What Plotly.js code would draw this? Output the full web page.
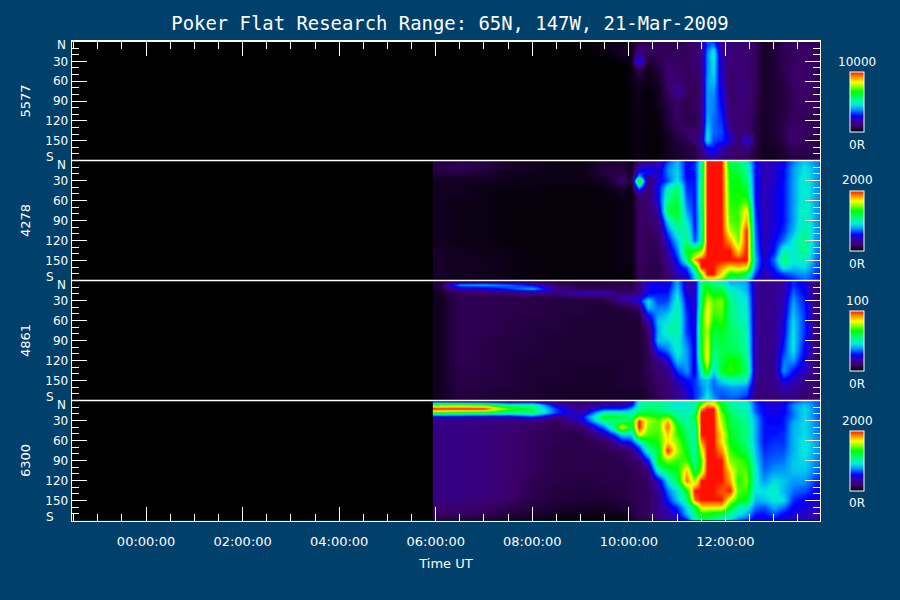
<!DOCTYPE html>
<html>
<head>
<meta charset="utf-8">
<script src="https://cdn.plot.ly/plotly-3.0.1.min.js"></script>
<style>html,body{margin:0;padding:0;background:#00406a}</style>
</head>
<body>
<div id="chart" style="width:900px;height:600px"></div>
<script>
// Time bin edges (hours UT) and zenith-angle bin edges (degrees N to S)
const timeEdges = [5.94,6.25,6.75,7.25,7.75,8.25,8.75,9.25,9.7,9.98,10.12,10.3,10.5,10.7,10.9,11.1,11.28,11.43,11.55,11.68,11.83,12,12.18,12.35,12.53,12.7,12.9,13.1,13.3,13.5,13.78,13.96];
const angleEdges = [0,3,9,15,21,27,35,45,55,67,82,97,112,127,142,155,165,175,180];
const wavelengths = ["5577","4278","4861","6300"];
const fullScale = [10000,2000,100,2000];
const timeTickVals = [0,2,4,6,8,10,12];
const timeTickText = ["00:00:00","02:00:00","04:00:00","06:00:00","08:00:00","10:00:00","12:00:00"];
const angleTickVals = [30,60,90,120,150];
const angleTickText = ["30","60","90","120","150"];

// Brightness, percent of each panel's full scale
const pct5577 = [
[0,0,0,0,0,0,1,2,3,4,8,9,8,8,8,9,11,18,32,32,16,12,12,12,9,4,5,8,9,9,9],
[0,0,0,0,0,0,1,2,3,4,9,9,8,8,8,9,11,16,31,36,16,12,12,12,9,4,5,8,9,9,9],
[0,0,0,0,0,0,0,2,4,3,12,10,9,8,8,9,11,15,34,44,17,12,12,11,9,4,5,8,9,10,9],
[0,0,0,0,0,0,0,1,4,3,15,8,8,9,9,9,11,15,36,47,18,12,12,11,9,4,5,8,9,10,9],
[0,0,0,0,0,0,0,0,2,3,24,6,8,9,9,9,11,15,36,47,19,11,12,11,9,4,5,8,9,10,9],
[0,0,0,0,0,0,0,0,1,3,30,5,7,10,9,9,10,15,36,46,20,11,12,11,9,4,5,8,9,10,9],
[0,0,0,0,0,0,0,0,0,1,10,3,6,11,10,9,10,14,36,45,20,11,12,11,9,4,5,8,10,10,9],
[0,0,0,0,0,0,0,0,0,2,6,2,5,11,11,9,9,14,37,44,21,10,12,11,9,4,5,7,10,10,9],
[0,0,0,0,0,0,0,0,0,2,4,2,4,10,11,9,9,14,38,42,22,10,12,12,9,4,5,7,10,10,9],
[0,0,0,0,0,0,0,0,0,1,3,1,3,9,18,10,8,12,38,38,24,10,12,12,9,4,5,6,9,10,9],
[0,0,0,0,0,0,0,0,0,1,3,1,3,7,10,8,9,13,38,36,26,10,12,12,8,4,5,6,9,10,9],
[0,0,0,0,0,0,0,0,0,1,2,1,2,6,10,8,8,13,38,36,28,11,11,12,8,4,5,6,9,9,9],
[0,0,0,0,0,0,0,0,0,1,2,1,1,6,9,8,7,12,40,34,30,12,11,11,7,4,5,7,9,9,9],
[0,0,0,0,0,0,0,0,0,1,2,1,1,4,8,10,10,13,44,34,32,17,11,11,7,4,5,8,11,9,9],
[0,0,0,0,0,0,0,0,0,1,2,1,1,3,6,8,13,18,46,32,30,24,11,26,7,4,4,7,12,9,8],
[0,0,0,0,0,0,0,0,0,1,2,1,1,3,5,6,7,14,28,28,22,13,10,14,6,3,4,6,9,8,8],
[0,0,0,0,0,0,0,0,0,1,2,1,1,3,5,6,7,12,20,24,15,11,10,10,6,3,3,5,7,7,7],
[0,0,0,0,0,0,0,0,0,1,1,1,1,3,4,5,6,9,15,16,12,10,9,9,5,3,3,4,6,6,6]
];
const pct4278 = [
[6,7,7,4,3,2,2,5,5,3,12,12,18,30,40,25,28,48,100,100,100,55,58,48,28,20,22,26,35,42,36],
[7,8,7,4,3,2,2,5,6,3,16,20,20,34,42,26,30,50,100,100,100,60,60,50,28,20,22,26,36,44,36],
[7,8,6,4,3,2,2,6,6,3,22,25,22,36,42,26,30,52,100,100,100,62,62,52,28,20,22,27,38,46,38],
[6,7,5,3,3,2,2,6,8,3,30,28,22,36,44,26,28,52,100,100,100,64,62,54,28,20,22,27,38,46,38],
[4,4,4,3,2,2,2,5,8,3,42,14,24,34,44,26,28,52,100,100,100,64,64,56,28,20,22,27,38,47,38],
[3,3,3,2,2,2,2,3,12,3,78,12,24,32,46,28,28,54,100,100,100,66,66,58,28,20,23,28,38,48,38],
[3,3,2,2,2,1,1,2,5,2,40,12,26,46,56,30,28,54,100,100,100,66,66,62,28,20,23,28,38,48,38],
[3,3,2,1,1,1,1,1,3,2,12,11,26,52,60,32,28,54,100,100,100,68,68,66,28,20,24,28,38,48,38],
[3,2,2,1,1,1,1,1,2,2,11,11,25,56,62,34,28,54,100,100,100,68,68,72,28,20,24,28,38,48,38],
[3,2,2,1,1,1,1,1,2,2,10,10,18,62,64,38,28,52,100,100,100,70,70,85,30,20,24,28,38,50,38],
[3,2,2,1,1,1,1,1,2,2,10,10,14,45,60,45,28,50,100,100,100,72,70,90,32,20,24,28,38,50,38],
[3,2,2,1,1,1,1,1,2,2,10,9,10,34,50,52,28,50,100,100,100,78,72,100,34,20,24,30,40,52,38],
[3,2,2,1,1,1,1,1,2,2,10,8,9,25,42,56,32,50,100,100,100,90,74,100,36,20,26,35,46,56,38],
[4,3,2,2,1,1,1,1,2,2,10,8,8,18,35,66,66,75,100,100,100,100,85,100,38,20,28,50,46,54,36],
[4,3,3,2,1,1,1,1,2,2,10,8,8,15,28,55,92,100,100,100,100,100,100,100,42,22,35,58,46,50,34],
[4,3,3,2,1,1,1,1,2,1,9,8,7,12,24,32,60,100,100,100,92,85,88,85,38,22,30,48,42,44,32],
[4,3,3,2,1,1,1,1,1,1,9,7,7,11,20,25,45,72,100,100,84,65,68,60,30,20,25,30,34,38,30],
[3,3,2,2,1,1,1,1,1,1,8,7,7,10,18,22,40,65,72,72,70,55,55,45,25,18,22,24,28,33,28]
];
const pct4861 = [
[4,6,6,5,5,5,5,6,6,7,12,22,25,22,40,20,22,55,62,55,50,40,40,38,18,14,16,18,30,25,12],
[6,38,40,35,25,10,7,7,7,7,12,24,26,24,40,20,22,56,64,56,52,42,42,40,18,14,16,18,30,25,12],
[5,20,22,30,40,14,8,8,8,8,14,25,26,26,42,20,22,56,68,60,60,46,44,40,18,14,16,18,32,26,12],
[3,10,10,12,15,15,22,20,10,9,14,26,28,28,44,22,22,57,72,64,66,50,46,42,18,14,16,18,34,26,12],
[3,8,8,7,7,7,9,10,18,22,20,32,30,30,46,24,22,58,76,68,70,52,48,44,18,14,16,20,36,28,12],
[3,8,8,7,7,6,6,6,15,20,25,45,30,32,48,26,22,58,80,72,75,55,48,45,18,14,16,20,38,28,12],
[3,8,8,7,7,6,6,5,6,8,10,42,35,36,50,28,22,60,84,72,74,55,50,46,18,14,16,21,40,29,12],
[3,8,8,7,7,6,6,5,5,6,6,28,38,42,51,30,22,65,85,70,72,55,50,48,18,14,16,22,42,30,12],
[3,8,8,7,6,6,5,5,5,6,5,18,42,46,52,30,23,66,84,66,70,56,52,48,18,14,16,24,44,30,12],
[3,8,8,7,6,6,5,5,5,5,5,10,40,50,52,30,24,68,78,62,65,58,55,50,18,14,16,25,45,30,12],
[3,8,7,6,6,5,5,5,5,5,5,9,42,42,48,34,24,66,82,58,62,58,56,51,18,14,16,28,46,28,12],
[3,8,7,6,6,5,5,5,5,5,5,8,28,35,48,38,24,65,85,55,60,60,58,52,18,14,16,30,45,26,12],
[3,8,7,6,5,5,5,5,5,5,5,8,14,22,42,38,24,60,85,50,62,68,65,55,18,14,16,35,38,24,12],
[3,7,7,6,5,5,4,4,5,5,5,8,11,14,30,38,24,50,72,42,65,70,66,58,18,14,16,38,28,22,12],
[3,7,6,6,5,5,4,4,5,5,5,7,10,12,22,28,30,40,42,35,45,50,50,48,16,13,15,26,22,16,11],
[3,7,6,6,5,4,4,4,5,5,5,7,9,11,18,24,30,36,42,34,36,38,38,36,16,13,14,20,18,13,10],
[3,6,6,5,5,4,4,4,4,4,4,6,9,10,15,22,30,35,45,36,32,35,35,32,14,12,13,15,15,11,10],
[2,6,5,5,4,4,3,4,4,4,4,6,8,10,18,22,30,40,48,40,32,32,30,25,12,11,12,13,14,10,10]
];
const pct6300 = [
[20,14,12,12,14,10,10,14,16,20,48,52,52,50,45,48,50,65,72,78,60,50,50,45,30,24,22,25,30,36,32],
[70,72,68,50,52,20,12,18,20,25,50,55,55,50,45,48,50,72,90,85,65,52,50,48,32,25,23,25,36,42,34],
[100,100,100,72,58,30,14,30,30,40,52,58,55,52,48,48,50,90,100,100,68,55,50,50,32,26,24,26,36,44,34],
[66,62,60,52,58,30,18,50,50,48,60,62,58,58,50,48,55,100,100,100,72,58,52,50,35,26,24,26,35,44,34],
[22,22,20,22,30,14,25,65,62,55,75,72,68,72,55,50,62,100,100,100,75,60,55,52,38,28,26,28,35,44,34],
[14,14,13,12,12,8,22,55,55,62,100,78,72,90,60,50,60,100,100,100,78,60,58,52,40,28,26,28,38,44,36],
[14,14,13,12,10,8,10,35,85,58,100,75,72,95,68,55,50,100,100,100,80,62,58,55,40,28,28,28,40,44,36],
[14,14,13,11,9,8,7,20,45,45,85,72,70,88,70,58,50,100,100,100,85,65,60,55,40,28,28,30,40,44,36],
[14,14,13,11,9,8,7,9,25,30,48,65,68,85,75,60,50,92,100,100,85,65,62,55,40,28,30,30,40,46,38],
[14,14,13,11,9,7,7,8,9,12,25,50,62,100,78,65,50,80,100,100,92,70,65,60,42,30,32,32,40,46,38],
[14,14,13,11,9,7,7,7,8,10,10,28,65,75,70,70,52,70,100,100,100,75,72,68,45,32,34,35,42,44,36],
[14,14,13,11,9,7,7,7,7,8,9,12,50,60,65,88,58,75,100,100,100,85,72,72,48,34,38,38,42,42,34],
[14,14,13,11,8,7,6,7,7,8,8,10,22,45,60,95,75,100,100,100,100,90,68,75,48,38,44,42,38,38,30],
[14,14,13,11,8,6,6,6,7,8,8,9,16,35,45,65,100,100,100,100,95,100,72,70,45,45,48,40,35,32,26],
[13,13,12,10,7,6,5,5,6,7,8,9,15,28,42,55,95,100,100,100,100,80,68,65,40,42,46,45,30,26,24],
[11,11,10,8,6,5,4,4,5,7,8,9,15,22,30,45,60,85,85,85,85,65,52,48,35,32,40,35,26,24,22],
[9,9,8,6,5,3,2,2,3,6,8,9,14,20,25,40,55,65,65,62,60,52,45,40,28,28,32,26,24,22,20],
[6,6,5,4,3,1,1,1,1,4,7,8,12,15,20,28,50,60,60,55,50,42,35,30,24,24,26,24,22,20,18]
];
const panels = [pct5577,pct4278,pct4861,pct6300];

const rainbow = [[0,'#000000'],[0.1,'#3a0068'],[0.2,'#3000b0'],[0.27,'#0000ff'],[0.37,'#0090ff'],[0.45,'#00e8e0'],[0.55,'#00ff80'],[0.67,'#00ff00'],[0.83,'#ffff00'],[0.93,'#ff8000'],[1,'#ff1000']];
const BG = '#00406a', FG = '#ffffff';
const FONT = 'DejaVu Sans';
const W = 900, H = 600;
const edgesPx = [41.5,160.5,280.5,400.5,520.5];
const py = p => 1 - p / H;

const traces = [], layout = {
  width: W, height: H,
  paper_bgcolor: BG, plot_bgcolor: '#000000',
  margin: {l:0,r:0,t:0,b:0,pad:0,autoexpand:false},
  showlegend: false,
  font: {family: FONT, color: FG, size: 12},
  title: {text: 'Poker Flat Research Range: 65N, 147W, 21-Mar-2009', x: 0.5, xanchor: 'center', xref: 'paper', y: 1 - 23/H, yanchor: 'middle', font: {family: 'DejaVu Sans Mono', size: 18.9, color: FG}},
  annotations: [],
  // dividers between panels, drawn above the heatmaps
  shapes: edgesPx.slice(1, 4).map(p => ({type:'line', xref:'paper', yref:'paper', x0:72/W, x1:820/W, y0:py(p), y1:py(p), layer:'above', line:{color:FG, width:1.4}}))
};
panels.forEach((pct, i) => {
  const n = i === 0 ? '' : String(i + 1);
  const scale = fullScale[i];
  traces.push({
    type: 'heatmap',
    x: timeEdges, y: angleEdges,
    z: pct.map(r => r.map(v => v * scale / 100)),
    xaxis: 'x' + n, yaxis: 'y' + n,
    zmin: 0, zmax: scale, zsmooth: 'best',
    colorscale: rainbow,
    hoverinfo: 'skip',
    colorbar: {
      thickness: 14, thicknessmode: 'pixels', len: 60, lenmode: 'pixels',
      x: 850/W, xanchor: 'left', xref: 'paper',
      y: py(edgesPx[i] + 90), yanchor: 'bottom', yref: 'paper',
      xpad: 0, ypad: 0, outlinecolor: FG, outlinewidth: 1, borderwidth: 0,
      showticklabels: false, ticks: ''
    }
  });
  const isTop = i === 0, isBottom = i === panels.length - 1;
  layout['xaxis' + n] = {
    domain: [72/W, 820/W], range: [-1.534, 13.96], anchor: 'y' + n,
    side: isTop ? 'top' : 'bottom',
    showgrid: false, zeroline: false, showline: isTop || isBottom, mirror: false, linecolor: FG, linewidth: 1.4,
    tickmode: 'array', tickvals: timeTickVals, ticktext: timeTickText,
    ticks: (isTop || isBottom) ? 'inside' : '', ticklen: 14, tickwidth: 1, tickcolor: FG,
    showticklabels: isBottom, tickfont: {family: FONT, size: 13, color: FG}, ticklabelstandoff: 8,
    minor: (isTop || isBottom) ? {ticks:'inside', ticklen:7, tickwidth:1, tickcolor:FG, tickmode:'linear', tick0:0, dtick:0.5, showgrid:false} : {ticks:''}
  };
  if (isBottom) layout['xaxis' + n].title = {text: 'Time UT', standoff: 11, font: {family: FONT, size: 13, color: FG}};
  layout['yaxis' + n] = {
    domain: [py(edgesPx[i+1]), py(edgesPx[i])], range: [180, 0], anchor: 'x' + n,
    showgrid: false, zeroline: false, showline: true, mirror: 'allticks', linecolor: FG, linewidth: 1.4,
    tickmode: 'array', tickvals: angleTickVals, ticktext: angleTickText,
    ticks: 'inside', ticklen: 15, tickwidth: 1, tickcolor: FG,
    tickfont: {family: FONT, size: 12, color: FG},
    minor: {ticks:'inside', ticklen:7, tickwidth:1, tickcolor:FG, tickmode:'linear', tick0:0, dtick:10, showgrid:false},
    title: {text: wavelengths[i], standoff: 11, font: {family: FONT, size: 13, color: FG}}
  };
  const yref = 'y' + n;
  const txt = (text, x, y, anchor, ref) => layout.annotations.push({text, x, y, xref:'paper', yref:ref, xanchor:anchor, yanchor:'middle', showarrow:false, font:{family:FONT,size:12,color:FG}});
  txt('N', 68/W, 6, 'right', yref);
  txt('S', 56/W, 174, 'right', yref);
  txt(String(scale), 857/W, py(edgesPx[i] + 20), 'center', 'paper');
  txt('0R', 857/W, py(edgesPx[i] + 103), 'center', 'paper');
});
Plotly.newPlot('chart', traces, layout, {staticPlot:true, displayModeBar:false});
</script>
</body>
</html>
